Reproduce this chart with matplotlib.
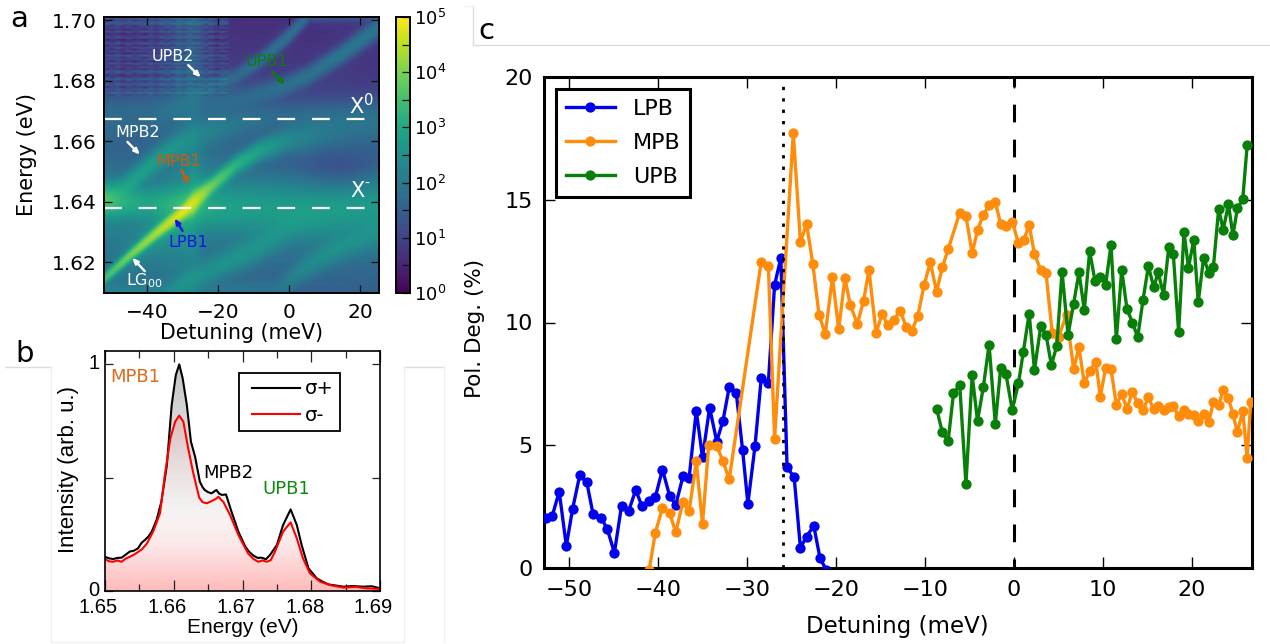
import numpy as np
import matplotlib
matplotlib.use("Agg")
import matplotlib.pyplot as plt
from matplotlib.colors import LogNorm, LinearSegmentedColormap
from matplotlib.lines import Line2D
from matplotlib.patches import Polygon
from matplotlib.ticker import MultipleLocator, FixedLocator, NullFormatter
from matplotlib.transforms import ScaledTranslation

W, H = 1270, 644

# ---------- panel c ----------
lpb_x = [-52.6,-51.9,-51.1,-50.3,-49.6,-48.8,-48.0,-47.3,-46.4,-45.7,-44.9,-44.1,-43.3,-42.5,-41.8,-41.0,-40.3,-39.5,-38.7,-38.0,-37.2,-36.5,-35.7,-35.0,-34.2,-33.4,-32.7,-32.0,-31.2,-30.5,-29.9,-29.1,-28.4,-27.6,-26.9,-26.2,-25.5,-24.7,-24.0,-23.3,-22.5,-21.8,-21.1,-20.4]
lpb_y = [2.05,2.1,3.11,0.90,2.40,3.77,3.49,2.20,2.05,1.59,0.62,2.53,2.32,3.18,2.51,2.74,2.89,4.01,2.95,2.57,3.73,3.68,6.40,4.51,6.53,5.15,6.00,7.36,7.11,4.82,2.62,4.97,7.74,7.55,11.53,12.63,4.11,3.69,0.83,1.28,1.72,0.41,-0.08,-0.8]
mpb_x = [-41.0,-40.3,-39.5,-38.7,-38.0,-37.2,-36.5,-35.7,-35.0,-34.3,-33.4,-32.7,-32.0,-28.4,-27.6,-26.9,-24.8,-24.0,-23.3,-22.6,-21.9,-21.2,-20.4,-19.7,-19.0,-18.4,-17.6,-16.9,-16.3,-15.5,-14.8,-14.2,-13.5,-12.8,-12.1,-11.5,-10.8,-10.1,-9.4,-8.7,-8.05,-7.4,-6.1,-5.4,-4.7,-4.1,-3.45,-2.8,-2.1,-1.5,-0.9,-0.2,0.5,1.1,1.7,2.3,3.0,3.6,4.3,5.0,5.9,6.7,7.3,7.9,8.5,9.2,9.7,10.3,10.9,11.5,12.1,12.7,13.3,13.9,14.5,15.1,15.7,16.2,16.8,17.4,17.9,18.5,19.1,19.6,20.2,20.7,21.3,21.9,22.4,23.0,23.5,24.1,24.6,25.1,25.7,26.2,26.6]
mpb_y = [-0.1,1.44,2.44,2.24,1.45,2.70,2.32,4.34,1.78,5.02,4.97,4.36,3.61,12.48,12.32,5.25,17.72,13.29,14.0,12.37,10.31,9.53,11.84,9.72,11.80,10.73,9.93,10.89,12.14,9.59,10.36,9.88,10.10,10.47,9.83,9.64,10.28,11.53,12.45,11.26,12.25,12.98,14.47,14.34,12.82,13.77,14.38,14.79,14.89,14.03,13.94,14.11,13.22,13.36,13.97,12.79,12.14,12.0,9.56,9.42,10.31,8.11,8.99,7.52,8.04,8.39,6.98,8.15,8.11,6.63,7.09,6.49,7.18,6.71,6.44,6.95,6.46,6.60,6.44,6.57,6.60,6.19,6.44,6.27,6.23,5.97,6.27,5.95,6.76,6.63,7.25,6.91,6.27,5.53,6.40,4.47,6.78]
upb_x = [-8.7,-8.05,-7.4,-6.8,-6.1,-5.4,-4.7,-4.1,-3.45,-2.8,-2.1,-1.5,-0.9,-0.2,0.5,1.05,1.7,2.3,3.0,3.6,4.2,4.8,5.4,6.07,6.7,7.3,7.9,8.5,9.1,9.7,10.3,10.9,11.5,12.1,12.7,13.3,13.9,14.5,15.1,15.7,16.2,16.8,17.4,17.9,18.5,19.1,19.6,20.2,20.7,21.3,21.9,22.4,23.0,23.5,24.1,24.6,25.1,25.7,26.2]
upb_y = [6.49,5.53,5.17,7.11,7.47,3.42,7.86,5.99,7.36,9.10,5.87,8.13,7.89,6.44,7.52,8.81,10.36,8.07,9.84,9.50,8.27,9.04,12.07,9.49,10.77,12.04,10.51,12.90,11.70,11.87,11.54,13.17,9.31,12.14,10.54,10.0,9.40,10.93,12.30,11.43,12.04,11.13,13.09,12.78,9.60,13.70,12.23,13.37,10.82,12.63,12.03,12.25,14.64,13.77,14.81,13.55,14.65,15.02,17.22]
c_xticks = [-50,-40,-30,-20,-10,0,10,20]
c_yticks = [0,5,10,15,20]

# ---------- panel b ----------
plus_e = [1.6500,1.6506,1.6512,1.6518,1.6524,1.6530,1.6536,1.6542,1.6548,1.6553,1.6558,1.6563,1.6568,1.6575,1.6582,1.6590,1.6597,1.6603,1.6608,1.6613,1.6619,1.6625,1.6631,1.6638,1.6642,1.6645,1.6650,1.6655,1.6662,1.6666,1.6670,1.6676,1.6684,1.6694,1.6704,1.6710,1.6716,1.6722,1.6728,1.6734,1.6740,1.6750,1.6759,1.6770,1.6779,1.6786,1.6796,1.6808,1.6816,1.6825,1.6836,1.6847,1.6860,1.6876,1.6888,1.6900]
plus_i = [.151,.144,.141,.146,.147,.160,.174,.178,.188,.212,.225,.240,.262,.313,.394,.556,.821,.953,1.0,.938,.821,.659,.593,.482,.458,.446,.436,.431,.446,.430,.424,.426,.35,.262,.196,.172,.156,.146,.147,.140,.159,.203,.291,.36,.291,.203,.10,.056,.042,.029,.024,.019,.022,.019,.021,.012]
minus_e = [1.6500,1.6506,1.6512,1.6518,1.6524,1.6530,1.6536,1.6542,1.6548,1.6554,1.6561,1.6570,1.6580,1.6587,1.6595,1.6602,1.6608,1.6614,1.6621,1.6628,1.6637,1.6642,1.6648,1.6653,1.6658,1.6662,1.6665,1.6668,1.6672,1.6682,1.6694,1.6708,1.6716,1.6723,1.6729,1.6735,1.6741,1.6747,1.6759,1.6770,1.6779,1.6788,1.6798,1.6813,1.6827,1.6847,1.6865,1.6880,1.6900]
minus_i = [.140,.131,.129,.135,.129,.143,.151,.160,.172,.185,.210,.262,.343,.512,.672,.747,.774,.747,.629,.526,.412,.392,.387,.394,.401,.408,.416,.405,.394,.335,.247,.166,.141,.129,.135,.129,.136,.172,.262,.303,.232,.144,.078,.041,.026,.015,.018,.012,.009]

# ---------- panel a: branches (detuning, energy, log10 peak, width) ----------
main_x = [-53,-45,-37,-30,-27,-22,-15,-8,0,5,12,25]
main_e = [1.6135,1.6220,1.6300,1.6365,1.6395,1.6450,1.6520,1.6570,1.6605,1.6615,1.6630,1.6650]
main_a = [3.4,3.95,4.4,4.8,4.7,3.9,3.2,2.8,2.3,2.1,1.8,1.5]
main_w = [.0009,.0009,.0010,.0011,.0016,.0013,.0015,.0018,.0024,.0030,.0036,.0045]

mpb2_x = [-53,-46,-40,-33,-26,-15,-5]
mpb2_e = [1.6400,1.6450,1.6510,1.6575,1.6620,1.6660,1.6680]
mpb2_a = [2.5,2.8,2.75,2.55,2.2,1.8,1.5]
mpb2_w = [.0022,.0022,.0022,.0024,.0028,.0030,.0030]

trion_x = [-53,-47,-40,-30,-20,0,25]
trion_e = [1.6405,1.6400,1.6395,1.6390,1.6380,1.6375,1.6370]
trion_a = [3.7,3.15,2.8,3.2,2.75,2.55,2.4]
trion_w = [.0024,.0026,.0028,.0028,.0040,.0050,.0060]

upb1_x = [-53,-25,-12,-2,5,15,25]
upb1_e = [1.6700,1.6720,1.6745,1.6780,1.6815,1.6890,1.6975]
upb1_a = [1.4,1.5,1.6,1.8,1.85,1.95,1.95]
upb1_w = [.0030,.0030,.0022,.0017,.0017,.0017,.0018]

upb2_x = [-40,-25,-15,-8,0,6]
upb2_e = [1.6650,1.6765,1.6815,1.6870,1.6950,1.7030]
upb2_a = [1.2,1.45,1.65,1.8,1.8,1.75]
upb2_w = [.0030,.0018,.0015,.0014,.0014,.0014]

low1_x = [-36,-30,-10,3,25]
low1_e = [1.6080,1.6130,1.6240,1.6340,1.6420]
low1_a = [2.0,2.4,2.5,2.3,2.0]
low1_w = [.0024,.0024,.0028,.0032,.0036]

low2_x = [-4,3,12,25]
low2_e = [1.6100,1.6170,1.6235,1.6300]
low2_a = [1.7,2.15,2.4,2.25]
low2_w = [.0024,.0024,.0026,.0028]

bg_e = [1.608,1.62,1.63,1.638,1.645,1.652,1.66,1.667,1.672,1.678,1.685,1.702]
bg_a = [1.4,1.65,2.0,2.3,1.85,1.45,1.35,1.3,1.05,0.7,0.5,0.45]

row_tex = [.2,-.3,.35,-.1,-.4,.25,.05,-.35,.4,-.2,.15,-.45,.3,.1,-.25,.45,-.15,-.4,.2,.35,-.3,.05,-.2,.3,-.35,.15,-.05,.4,-.3,.1,-.15]
col_tex = [.1,-.15,.2,-.05,.15,-.2,.05,.25,-.1,-.25,.15,.05,-.15,.2,-.05,-.2,.1,.02,-.08,.22,-.12,.07,-.24,.13,.03,-.17,.19,-.02,.09,-.22,.16,-.06,-.13]
a_xticks = [-40,-20,0,20]
a_yticks = [1.62,1.64,1.66,1.68,1.70]
x_lines = [1.6672,1.6380]


def px_axes(l, t, r, b):
    return fig.add_axes([l / W, 1 - b / H, (r - l) / W, (b - t) / H])


def ftext(x, y, s, **kw):
    kw.setdefault("ha", "center")
    kw.setdefault("va", "center")
    return fig.text(x / W, 1 - y / H, s, **kw)


fig = plt.figure(figsize=(W / 100, H / 100), dpi=100, facecolor="white")
plt.rcParams["font.family"] = "DejaVu Sans"

# separators
grey = "#dcdcdc"
pale = "#f1f1f1"
for (x0, y0, x1, y1, col) in [(473, 6, 473, 45, grey), (473, 45, 1270, 45, grey), (465, 6, 473, 6, pale),
                              (5, 367, 51, 367, grey), (404, 367, 444, 367, grey),
                              (51, 367, 51, 642, pale), (404, 367, 404, 642, pale),
                              (444, 367, 444, 642, pale), (51, 642, 404, 642, pale)]:
    fig.add_artist(Line2D([x0 / W, x1 / W], [1 - y0 / H, 1 - y1 / H], color=col, lw=1.0))

# ================= panel a =================
axa = px_axes(104, 17, 379, 293)
xlim_a = (-52.06, 25.2)
ylim_a = (1.6099, 1.7010)
gx = np.linspace(xlim_a[0], xlim_a[1], 150)
gy = np.linspace(ylim_a[0], ylim_a[1], 140)
X, Y = np.meshgrid(gx, gy)
total = 10 ** np.interp(Y, bg_e, bg_a)
for bx, be, ba, bw in [(main_x, main_e, main_a, main_w), (mpb2_x, mpb2_e, mpb2_a, mpb2_w),
                       (trion_x, trion_e, trion_a, trion_w), (upb1_x, upb1_e, upb1_a, upb1_w),
                       (upb2_x, upb2_e, upb2_a, upb2_w), (low1_x, low1_e, low1_a, low1_w),
                       (low2_x, low2_e, low2_a, low2_w)]:
    c = np.interp(X, bx, be)
    a = np.interp(X, bx, ba)
    w = np.interp(X, bx, bw)
    d = (Y - c) / w
    total = total + 10 ** a * (0.88 * np.exp(-0.5 * d ** 2) + 0.12 / (1 + d ** 2) ** 0.8)
logI = np.log10(total)
# broad dark patch on the right, between the branches
logI -= 0.4 * np.exp(-((X - 14) / 11) ** 2 - ((Y - 1.650) / 0.007) ** 2)
# streaky, low-count region at the upper left
mask = (X < -17) & (Y > 1.675)
rows = np.array(row_tex)[np.arange(len(gy)) % len(row_tex)]
ncol = len(col_tex)
tex = np.array([[rows[i] + col_tex[(j // 3 + 11 * i) % ncol] for j in range(len(gx))] for i in range(len(gy))])
logI = np.where(mask, logI + 0.12 + 0.8 * tex, logI)
logI = np.where((X < -17) & (Y > 1.698), logI + 0.3, logI)
im = axa.imshow(10 ** logI, origin="lower", aspect="auto", cmap="viridis",
                norm=LogNorm(1, 1e5), extent=[*xlim_a, *ylim_a], interpolation="bilinear",
                interpolation_stage="rgba")
axa.set_xlim(xlim_a)
axa.set_ylim(ylim_a)
for yv in x_lines:
    axa.plot([xlim_a[0], 21.6], [yv, yv], color="white", lw=1.6, ls=(0, (8.0, 7.6)))
axa.set_xticks(a_xticks)
axa.set_yticks(a_yticks)
axa.set_yticklabels(["%.2f" % v for v in a_yticks])
axa.tick_params(direction="in", top=True, right=True, length=5.5, width=0.9, labelsize=14.5, pad=5.5, color="#111111")
axa.tick_params(axis="x", pad=7.5)
for s in axa.spines.values():
    s.set_linewidth(1.4)
axa.set_xlabel("Detuning (meV)", fontsize=14.8, va="center")
axa.xaxis.set_label_coords(0.5, -0.144)
axa.set_ylabel("Energy (eV)", fontsize=15, va="center", ha="center")
axa.yaxis.set_label_coords(-0.28, 0.5, transform=axa.transAxes)

arrow_specs = [
    ("UPB2", (-32.6, 1.6881), (-28.4, 1.6851), (-24.9, 1.6811), "white"),
    ("UPB1", (-6.3, 1.6862), (-4.8, 1.6829), (-1.3, 1.6787), "#0a7d0a"),
    ("MPB2", (-42.7, 1.6629), (-45.5, 1.6598), (-42.0, 1.6556), "white"),
    ("MPB1", (-31.0, 1.6532), (-30.3, 1.6505), (-28.2, 1.6458), "#cc5a10"),
    ("LPB1", (-28.4, 1.6266), (-30.0, 1.6304), (-32.2, 1.6345), "#1414e6"),
    ("LG$_{00}$", (-40.8, 1.6139), (-40.6, 1.6171), (-44.1, 1.6215), "white"),
]
for label, tpos, start, end, col in arrow_specs:
    axa.text(*tpos, label, color=col, fontsize=11.5, ha="center", va="center")
    axa.annotate("", xy=end, xytext=start,
                 arrowprops=dict(arrowstyle="-|>,head_length=0.32,head_width=0.14", color=col, lw=1.7,
                                 shrinkA=0, shrinkB=0))
axa.text(20.2, 1.6719, "X$^{0}$", color="white", fontsize=15, ha="center", va="center")
axa.text(19.3, 1.6436, "X", color="white", fontsize=15, ha="center", va="center")
axa.text(21.9, 1.6458, "-", color="white", fontsize=10, ha="center", va="center")

cax = px_axes(396, 17, 410, 293)
cb = fig.colorbar(im, cax=cax)
cb.set_ticks([1, 10, 100, 1e3, 1e4, 1e5])
cax.yaxis.set_minor_locator(FixedLocator([10 ** (k + .5) for k in range(5)]))
cax.yaxis.set_minor_formatter(NullFormatter())
cax.tick_params(which="both", direction="in", right=True, length=6, width=0.9, labelsize=13, pad=3, color="#111111")
cb.outline.set_linewidth(1.4)

# ================= panel b =================
axb = px_axes(105, 351, 380, 591)
fnt_b = "Liberation Sans"
xlim_b = (1.65, 1.69)
ylim_b = (0, 1.059)
grad_y = np.linspace(0, 1, 256)[:, None]
grey_cm = LinearSegmentedColormap.from_list("g", [(0, "#ffffff"), (0.3, "#fafafa"), (0.5, "#ececec"), (1, "#c4c4c4")])
red_cm = LinearSegmentedColormap.from_list("r", [(0, (1, 0, 0, .27)), (0.2, (1, 0, 0, .08)), (0.35, (1, 0, 0, .015)),
                                                  (0.55, (1, 0, 0, .04)), (0.8, (1, 0, 0, .13)), (1, (1, 0, 0, .15))])
for E, I, cm in [(plus_e, plus_i, grey_cm), (minus_e, minus_i, red_cm)]:
    g = axb.imshow(grad_y, origin="lower", aspect="auto", cmap=cm, vmin=0, vmax=1,
                   extent=[xlim_b[0], xlim_b[1], 0, 1])
    poly = Polygon(np.column_stack([[E[0]] + E + [E[-1]], [0] + I + [0]]), transform=axb.transData,
                   facecolor="none", edgecolor="none")
    axb.add_patch(poly)
    g.set_clip_path(poly)
l1, = axb.plot(plus_e, plus_i, color="black", lw=1.5, label="σ+")
l2, = axb.plot(minus_e, minus_i, color="red", lw=1.5, label="σ-")
axb.set_xlim(xlim_b)
axb.set_ylim(ylim_b)
axb.set_xticks([1.65, 1.66, 1.67, 1.68, 1.69])
axb.set_xticklabels(["1.65", "1.66", "1.67", "1.68", "1.69"], fontfamily=fnt_b)
axb.xaxis.set_minor_locator(MultipleLocator(0.005))
axb.set_yticks([0, 0.5, 1])
axb.set_yticklabels(["0", "", "1"], fontfamily=fnt_b)
axb.tick_params(which="major", direction="in", top=True, right=True, length=8, width=0.9, labelsize=14.5, color="#222222")
axb.tick_params(which="minor", direction="in", top=True, length=5, width=0.9, color="#222222")
axb.tick_params(axis="y", length=5.5, pad=4)
axb.tick_params(axis="x", pad=5)
shift_x = ScaledTranslation(-6.5 / 100, 0, fig.dpi_scale_trans)
shift_y = ScaledTranslation(0, 3 / 100, fig.dpi_scale_trans)
fig.canvas.draw()
for t in axb.get_xticklabels():
    t.set_transform(t.get_transform() + shift_x)
for t in axb.get_yticklabels():
    t.set_transform(t.get_transform() + shift_y)
for s in axb.spines.values():
    s.set_linewidth(1.2)
axb.set_xlabel("Energy (eV)", fontsize=15, fontfamily=fnt_b, va="center")
axb.xaxis.set_label_coords(0.5, -0.154)
axb.set_ylabel("Intensity (arb. u.)", fontsize=16, fontfamily=fnt_b, va="center", ha="center")
axb.yaxis.set_label_coords(-0.131, 0.506, transform=axb.transAxes)
leg_b = axb.legend(handles=[l1, l2], loc="upper left", bbox_to_anchor=((239 - 105) / 275, 1 - (373 - 351) / 240),
                   borderaxespad=0, fancybox=False, framealpha=1, edgecolor="black",
                   handlelength=2.8, handletextpad=0.25, labelspacing=0.38, borderpad=0.33,
                   prop={"family": "DejaVu Sans", "size": 14})
leg_b.get_frame().set_linewidth(1.3)
for ln in leg_b.get_lines():
    xd = np.asarray(ln.get_xdata(), dtype=float)
    ln.set_xdata(np.linspace(xd[0] + 5, xd[-1], len(xd)))
ftext(135.7, 376.7, "MPB1", color="#dd6a1a", fontsize=13)
ftext(228.3, 473.3, "MPB2", color="black", fontsize=13)
ftext(286.7, 489.3, "UPB1", color="#118a11", fontsize=13)

# ================= panel c =================
axc = px_axes(544, 77, 1252, 568)
axc.axvline(0, color="black", lw=2.2, ls=(2.85, (5.8, 5.65)), zorder=1)
sty = dict(lw=2.4, marker="o", ms=7.4, mew=0, zorder=3)
axc.plot(lpb_x, lpb_y, color="#0000ee", label="LPB", **sty)
axc.plot(mpb_x, mpb_y, color="#ff8c0a", label="MPB", **sty)
axc.plot(upb_x, upb_y, color="#087f08", label="UPB", **sty)
axc.axvline(-26.0, color="black", lw=2.0, ls=(0, (1.2, 2.9)), zorder=4)
axc.set_xlim((544 - 1014) / 8.9, (1252 - 1014) / 8.9)
axc.set_ylim(0, 20)
axc.set_xticks(c_xticks)
axc.set_yticks(c_yticks)
axc.tick_params(direction="in", top=True, right=True, length=8, width=1.0, labelsize=16, pad=8)
axc.tick_params(axis="x", pad=9)
for s in axc.spines.values():
    s.set_linewidth(2.2)
axc.set_xlabel("Detuning (meV)", fontsize=16.5, va="center")
axc.xaxis.set_label_coords((897 - 544) / 708, -(627 - 568) / 491)
axc.set_ylabel("Pol. Deg. (%)", fontsize=15.5, va="center", ha="center")
axc.yaxis.set_label_coords(-(544 - 475) / 708, 0.487, transform=axc.transAxes)
leg_c = axc.legend(loc="upper left", bbox_to_anchor=((556 - 544) / 708, 1 - (89 - 77) / 491), borderaxespad=0,
                   fancybox=False, framealpha=1, edgecolor="black", fontsize=16,
                   handlelength=2.2, handletextpad=0.8, labelspacing=0.62, borderpad=0.45, numpoints=1)
leg_c.get_frame().set_linewidth(2.2)
leg_c.set_zorder(6)

ftext(19.5, 19, "a", fontsize=21)
ftext(25, 354, "b", fontsize=21)
ftext(486, 31, "c", fontsize=21)

fig.savefig("out.png", dpi=100, facecolor="white")
